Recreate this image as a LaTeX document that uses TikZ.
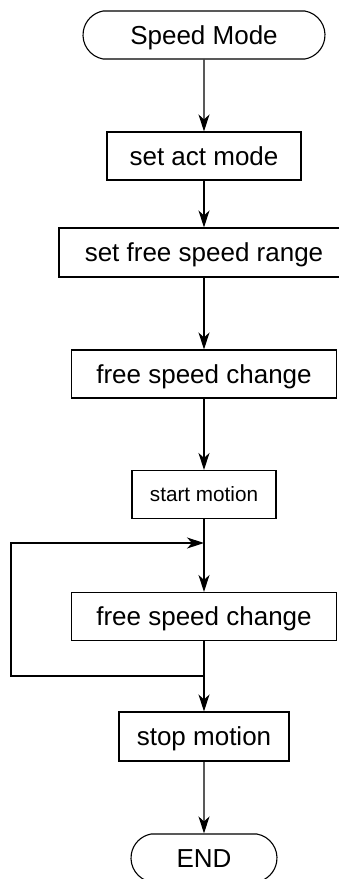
\documentclass[tikz,border=0pt]{standalone}
\usepackage{fontspec}
\setmainfont{Liberation Sans}
\usetikzlibrary{shapes.misc,arrows.meta}
\begin{document}
\begin{tikzpicture}[x=1pt,y=-1pt,
  box/.style={draw, line width=1.1pt, minimum height=48pt, inner sep=0pt,
    font=\fontsize{26}{30}\selectfont, text height=18.7pt, text depth=0pt},
  smallbox/.style={box, font=\fontsize{20.7}{24}\selectfont, text height=14.9pt},
  term/.style={box, rounded rectangle, rounded rectangle arc length=160},
  flow/.style={-{Stealth[length=17pt,width=11pt,inset=5pt]}, line width=1.1pt},
  link/.style={line width=1.1pt}]
  \useasboundingbox (0,0) rectangle (339,879);
  \clip (0,0) rectangle (339,879);

  % process steps, top to bottom
  \node[term, minimum width=242pt] (start) at (204,35) {Speed Mode};
  \node[box, minimum width=194pt] (act) at (204,156) {set act mode};
  \node[box, minimum width=290pt, minimum height=49pt] (range) at (204,252.5) {set free speed range};
  \node[box, minimum width=265pt] (chg1) at (204,374) {free speed change};
  \node[smallbox, minimum width=144pt] (motion) at (204,494.5) {start motion};
  \node[box, minimum width=265pt] (chg2) at (204,616.5) {free speed change};
  \node[box, minimum width=170pt, minimum height=49pt] (stop) at (204,736.5) {stop motion};
  \node[term, minimum width=146pt] (fin) at (204,858) {END};

  % loop corners
  \coordinate (join1) at (204,543);
  \coordinate (join2) at (204,676);
  \coordinate (loopTL) at (11,543);
  \coordinate (loopBL) at (11,676);

  % connectors
  \draw[flow] (start) -- (act);
  \draw[flow] (act) -- (range);
  \draw[flow] (range) -- (chg1);
  \draw[flow] (chg1) -- (motion);
  \draw[flow] (motion) -- (chg2);
  \draw[flow] (chg2) -- (stop);
  \draw[flow] (stop) -- (fin);
  \draw[flow] (join2) -- (loopBL) -- (loopTL) -- (join1);
\end{tikzpicture}
\end{document}
